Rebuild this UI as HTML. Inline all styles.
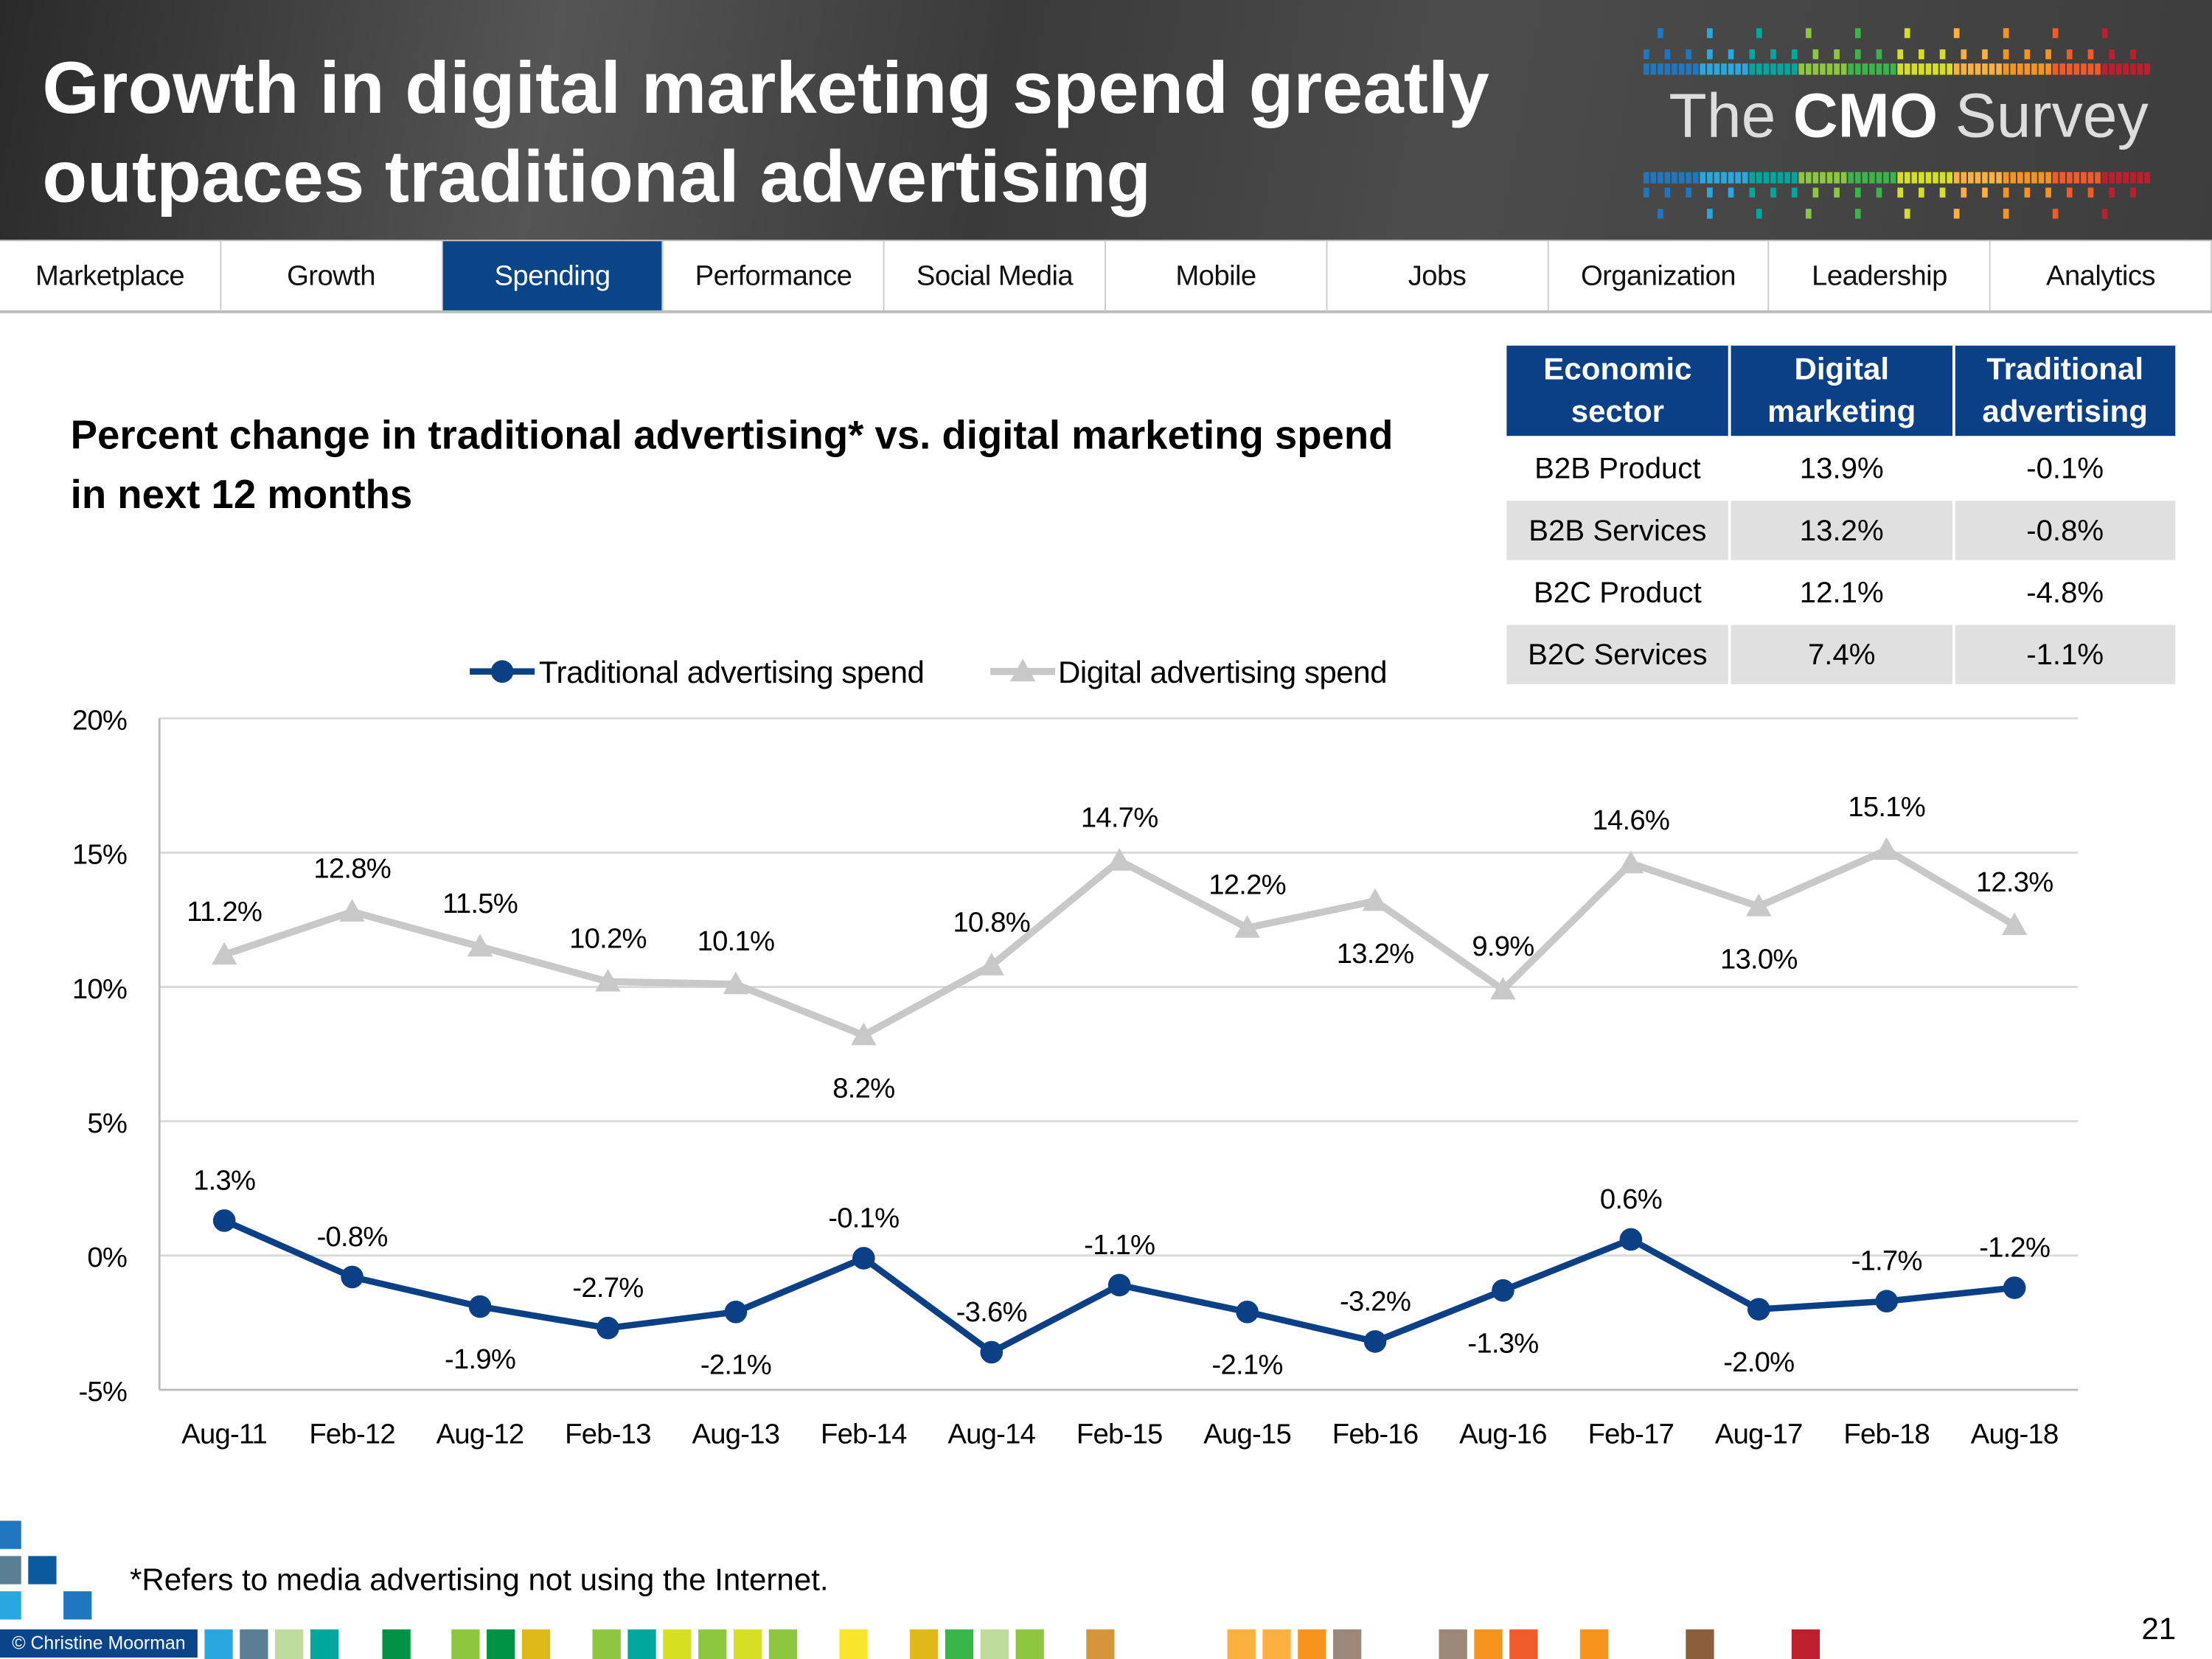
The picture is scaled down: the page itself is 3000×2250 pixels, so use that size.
<!DOCTYPE html>
<html><head><meta charset="utf-8">
<style>
html,body{margin:0;padding:0;background:#fff;}
body{width:3000px;height:2250px;overflow:hidden;position:relative;}
#s{position:absolute;left:0;top:0;width:1568px;height:1176px;transform:scale(1.91327);transform-origin:0 0;font-family:"Liberation Sans",sans-serif;}
.abs{position:absolute;}
#hdr{left:0;top:0;width:1568px;height:170px;background:linear-gradient(100deg,#2a2a2a 0%,#555 25%,#3a3a3a 45%,#4c4c4c 65%,#3d3d3d 100%);}
#title{left:30px;top:32px;color:#fff;font-weight:bold;font-size:52px;line-height:63px;}
#logo{left:1183px;top:58px;color:#ddd;font-size:44px;}
#nav{left:0;top:170px;width:1568px;height:52px;border-top:1px solid #bbb;border-bottom:2px solid #bbb;display:flex;box-sizing:border-box;}
.nav{flex:1;border-right:1px solid #ccc;text-align:center;line-height:50px;font-size:20px;color:#111;letter-spacing:-0.3px;}
.nav.on{background:#0b4589;color:#fff;}
#sub{left:50px;top:288px;font-size:28.5px;font-weight:bold;line-height:42px;color:#000;}
table{position:absolute;left:1068px;top:245px;border-collapse:collapse;width:476px;font-size:21px;table-layout:fixed;}
th{background:#0b3f86;color:#fff;height:64px;font-weight:bold;line-height:30px;border-right:2px solid #fff;padding:0;font-size:22px;}
td{height:42px;text-align:center;border-right:2px solid #fff;border-top:2px solid #fff;padding:0;line-height:1;}
tr.g td{background:#e0e0e0;}
#foot{left:92px;top:1107px;font-size:22px;}
#pg{left:1518px;top:1142px;font-size:22px;}
#cm{left:0;top:1155px;width:140px;height:20px;background:#0b4589;color:#fff;font-size:13px;line-height:20px;text-align:center;}
</style></head><body>
<div id="s">
<div id="hdr" class="abs"></div>
<div id="title" class="abs">Growth in digital marketing spend greatly<br>outpaces traditional advertising</div>
<svg class="abs" style="left:1160px;top:10px" width="400" height="155">
<g id="px1"></g>
</svg>
<div id="logo" class="abs">The <b style="color:#fff">CMO</b> Survey</div>
<div id="nav" class="abs">
<div class="nav">Marketplace</div>
<div class="nav">Growth</div>
<div class="nav on">Spending</div>
<div class="nav">Performance</div>
<div class="nav">Social Media</div>
<div class="nav">Mobile</div>
<div class="nav">Jobs</div>
<div class="nav">Organization</div>
<div class="nav">Leadership</div>
<div class="nav">Analytics</div>
</div>
<div id="sub" class="abs">Percent change in traditional advertising* vs. digital marketing spend<br>in next 12 months</div>
<table>
<tr><th>Economic<br>sector</th><th>Digital<br>marketing</th><th>Traditional<br>advertising</th></tr>
<tr><td>B2B Product</td><td>13.9%</td><td>-0.1%</td></tr>
<tr class="g"><td>B2B Services</td><td>13.2%</td><td>-0.8%</td></tr>
<tr><td>B2C Product</td><td>12.1%</td><td>-4.8%</td></tr>
<tr class="g"><td>B2C Services</td><td>7.4%</td><td>-1.1%</td></tr>
</table>
<svg id="chart" class="abs" style="left:0;top:440px" width="1568" height="600"></svg>
<div id="foot" class="abs">*Refers to media advertising not using the Internet.</div>
<div id="cm" class="abs">© Christine Moorman</div>
<div id="pg" class="abs">21</div>
<svg class="abs" style="left:0;top:1070px" width="1568" height="106" id="deco"></svg>
</div>
<script>
const categories=["Aug-11","Feb-12","Aug-12","Feb-13","Aug-13","Feb-14","Aug-14","Feb-15","Aug-15","Feb-16","Aug-16","Feb-17","Aug-17","Feb-18","Aug-18"];
const digital=[11.2,12.8,11.5,10.2,10.1,8.2,10.8,14.7,12.2,13.2,9.9,14.6,13.0,15.1,12.3];
const traditional=[1.3,-0.8,-1.9,-2.7,-2.1,-0.1,-3.6,-1.1,-2.1,-3.2,-1.3,0.6,-2.0,-1.7,-1.2];
const digitalLabelBelow=[0,0,0,0,0,1,0,0,0,1,0,0,1,0,0];
const tradLabelBelow=[0,0,1,0,1,0,0,0,1,0,1,0,1,0,0];
const yTicks=[20,15,10,5,0,-5];
const NS="http://www.w3.org/2000/svg";
const svg=document.getElementById('chart');
const OY=440;
function x(i){return 159+i*(1428-159)/(categories.length-1);}
function y(v){return 890-OY-v*(985-509)/25;}
function el(t,a,p){const e=document.createElementNS(NS,t);for(const k in a)e.setAttribute(k,a[k]);(p||svg).appendChild(e);return e;}
function txt(s,a){const e=el('text',Object.assign({'font-family':'"Liberation Sans",sans-serif','font-size':20,'letter-spacing':-0.4,fill:'#000'},a));e.textContent=s;return e;}
yTicks.forEach(v=>{
 const l=el('line',{x1:113,x2:1473,y1:y(v),y2:y(v),stroke:v===-5?'#bbb':'#d9d9d9','stroke-width':1.5});
 
 const t=txt(v+'%',{x:90,y:y(v)+8,'text-anchor':'end'});
 
});
const ax=el('line',{x1:113,x2:113,y1:y(20),y2:y(-5),stroke:'#bbb','stroke-width':1.5});

categories.forEach((c,i)=>{const t=txt(c,{x:x(i),y:y(-5)+38,'text-anchor':'middle'});
 });
const dl=el('polyline',{points:digital.map((v,i)=>x(i)+','+y(v)).join(' '),fill:'none',stroke:'#c8c8c8','stroke-width':5});

digital.forEach((v,i)=>{
 const cx=x(i),cy=y(v);
 const m=el('polygon',{points:`${cx},${cy-9} ${cx-9},${cy+7} ${cx+9},${cy+7}`,fill:'#c8c8c8'});
 
 const t=txt(v.toFixed(1)+'%',{x:cx,y:digitalLabelBelow[i]?cy+44:cy-24,'text-anchor':'middle'});
 
});
const tl=el('polyline',{points:traditional.map((v,i)=>x(i)+','+y(v)).join(' '),fill:'none',stroke:'#0b3f86','stroke-width':4.5});

traditional.forEach((v,i)=>{
 const cx=x(i),cy=y(v);
 const m=el('circle',{cx:cx,cy:cy,r:8,fill:'#0b3f86'});
 
 const t=txt(v.toFixed(1)+'%',{x:cx,y:tradLabelBelow[i]?cy+44:cy-22,'text-anchor':'middle'});
 
});
const lg=el('g',{});
el('line',{x1:333,x2:379,y1:36,y2:36,stroke:'#0b3f86','stroke-width':4.5},lg);
el('circle',{cx:356,cy:36,r:8,fill:'#0b3f86'},lg);
const l1=txt('Traditional advertising spend',{x:382,y:44,'font-size':22,'textLength':273});lg.appendChild(l1);
el('line',{x1:702,x2:748,y1:36,y2:36,stroke:'#c8c8c8','stroke-width':5},lg);
el('polygon',{points:'725,27 716,43 734,43',fill:'#c8c8c8'},lg);
const l2=txt('Digital advertising spend',{x:750,y:44,'font-size':22,'textLength':233});lg.appendChild(l2);
const deco=document.getElementById('deco');
function r(xx,yy,w,h,c,p){const e=document.createElementNS(NS,'rect');e.setAttribute('x',xx);e.setAttribute('y',yy);e.setAttribute('width',w);e.setAttribute('height',h);e.setAttribute('fill',c);(p||deco).appendChild(e);}
r(0,8,15,20,'#1f77c0');r(0,33,15,20,'#5a7f92');r(20,33,20,20,'#0b5aa0');r(0,58,15,20,'#29a8e0');r(45,58,20,20,'#1f77c0');
const bars=[[145,'#29a8e0'],[170,'#5a7f92'],[195,'#c0dc9c'],[220,'#00a79d'],[271,'#009245'],[320,'#8dc63f'],[345,'#009245'],[370,'#dfb81a'],[420,'#8dc63f'],[445,'#00a79d'],[470,'#d7df23'],[495,'#8dc63f'],[520,'#d7df23'],[545,'#8dc63f'],[595,'#f9e52c'],[645,'#dfb81a'],[670,'#39b54a'],[695,'#c0dc9c'],[720,'#8dc63f'],[770,'#d4963a'],[870,'#fbb040'],[895,'#fbb040'],[920,'#f7941d'],[945,'#9c8779'],[1020,'#9c8779'],[1045,'#f7941d'],[1070,'#f15a29'],[1120,'#f7941d'],[1195,'#8b5e3c'],[1270,'#be1e2d']];
bars.forEach(b=>r(b[0],85,20,21,b[1]));
const px=document.getElementById('px1');
const cols=['#1f77c0','#29a8e0','#00a79d','#8dc63f','#39b54a','#d7df23','#fbb040','#f7941d','#f15a29','#be1e2d'];
for(let i=0;i<72;i++){const c=cols[Math.floor(i/7.2)];
 r(5+i*5,35,4,8,c,px);r(5+i*5,112,4,8,c,px);
 if(i%3===0){r(5+i*5,25,4,7,c,px);r(5+i*5,123,4,7,c,px);}
 if(i%7===2){r(5+i*5,10,4,7,c,px);r(5+i*5,138,4,7,c,px);}}
</script>
</body></html>
